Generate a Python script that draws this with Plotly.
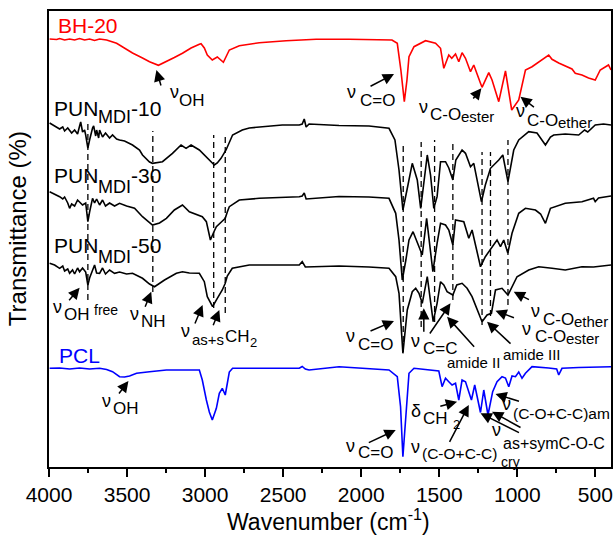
import plotly.graph_objects as go

# ---------------- data (wavenumber cm-1, transmittance in arbitrary offset units) -------------
BH20 = [(3996,428),(3951,427.5),(3932,428.5),(3900,427),(3868,428),(3836,427),(3804,428.5),(3772,427),
        (3740,428),(3708,426.5),(3676,428),(3631,427),(3567,423.7),(3516,419),(3465,414),(3401,409),
        (3356,405.3),(3299,401.7),(3248,405.3),(3197,409.5),(3145,413.7),(3090,419),(3037,422.7),(3026,423.3),
        (3005,419),(2986,412),(2954,407),(2922,410),(2883,404.7),(2845,417),(2781,421.3),(2653,424.3),
        (2481,426.3),(2289,427.7),(2078,427.7),(1950,427.5),(1803,427),(1769,423.7),(1746,397),(1724,365.3),
        (1707,387),(1694,410.3),(1662,420.3),(1588,426.3),(1524,423.7),(1492,418.7),(1471,398.7),(1439,412),
        (1420,408.7),(1396,413),(1375,405.3),(1354,414.3),(1332,408.7),(1300,395.3),(1279,402),(1236,383.7),
        (1226,379.7),(1183,394.3),(1162,387),(1119,365.3),(1076,396),(1036,357),(991,367),(948,397),
        (906,400.3),(799,412),(778,407.7),(735,404),(693,401),(650,398),(629,393.7),(586,392),(544,389),
        (501,387),(469,397),(437,400.3),(416,402),(400,397)]

PUN10 = [(3996,344),(3964,341),(3932,338),(3912,340),(3900,336),(3880,339),(3868,336),(3855,334),(3836,337),
         (3817,333),(3804,341),(3797,345),(3785,335),(3772,337),(3765,332),(3751,319),(3740,327),(3733,332),
         (3721,339),(3714,341),(3701,331),(3695,337),(3682,329),(3676,337),(3657,330),(3638,334),(3612,329),
         (3593,332),(3567,328),(3548,327),(3516,326),(3465,322),(3420,317),(3401,312),(3356,305),(3337,303.7),
         (3292,304.5),(3273,305.3),(3209,313.7),(3154,322),(3122,318.7),(3090,322),(3037,317),(2994,310.3),
         (2973,306),(2941,302),(2922,304),(2898,308.7),(2866,317),(2845,325),(2824,332),(2762,337),(2717,339),
         (2506,342),(2397,342),(2378,343),(2365,348),(2353,340),(2334,343),(2142,341.5),(1950,341),(1822,338.7),
         (1784,327),(1758,297),(1733,257),(1707,277),(1673,303.7),(1641,287),(1619,258.7),(1577,312),(1556,292),
         (1535,258.7),(1514,270.3),(1492,305.3),(1460,305.3),(1439,299),(1413,287),(1394,307),(1354,317),
         (1332,313.7),(1300,300.3),(1279,303.7),(1258,287),(1230,265.3),(1205,282),(1172,298.7),(1119,307),
         (1093,312),(1060,285.3),(1023,317),(991,327),(927,335.3),(874,334),(820,322),(788,330),(767,332),
         (693,333),(607,332),(569,337),(549,335),(501,342),(448,343),(400,342)]

PUN30 = [(3996,275.3),(3964,273),(3932,270.3),(3912,268),(3900,270),(3880,264),(3868,258.7),(3855,263),
         (3836,261),(3817,267),(3804,265.3),(3785,262),(3765,264),(3751,245.3),(3740,255),(3721,268.7),
         (3708,264),(3695,268),(3676,262),(3657,267),(3638,261),(3612,264),(3580,261),(3548,263.7),(3503,261),
         (3452,258.7),(3401,250.3),(3356,244),(3337,242),(3292,244),(3248,248.7),(3197,257),(3164,260.3),
         (3145,262),(3101,255.3),(3056,253),(3018,250.3),(2992,245.3),(2966,227),(2947,234),(2928,240.3),
         (2896,245),(2871,248.7),(2858,255),(2845,260.3),(2781,267),(2653,268.7),(2397,270.3),(2378,271),
         (2365,274),(2353,268),(2142,270.5),(1950,270),(1822,268.7),(1779,253.7),(1758,227),(1737,187),
         (1714,207),(1694,227),(1668,235.3),(1641,223.7),(1609,212),(1581,248.7),(1560,222),(1541,195.3),
         (1514,223.7),(1492,243.7),(1460,242),(1439,237),(1413,222),(1396,247),(1343,245.3),(1311,228.7),
         (1290,237),(1266,222),(1236,200.3),(1205,210.3),(1162,220.3),(1130,227),(1108,220.3),(1087,227),
         (1061,214),(1034,233.7),(991,253.7),(948,258.7),(884,257),(851,253),(820,243.7),(788,258.7),
         (693,263.7),(586,265.3),(512,268.7),(501,265.3),(480,269),(400,271)]

PUN50 = [(3996,203.7),(3964,202),(3932,198.7),(3912,201),(3900,196),(3880,198),(3868,193.7),(3849,197),
         (3836,193),(3817,199),(3804,195.3),(3785,199),(3765,195),(3751,182),(3740,189),(3721,197),(3708,202),
         (3695,194),(3676,193.7),(3657,199),(3638,193),(3612,197),(3580,193.7),(3548,195),(3503,193),
         (3465,193.7),(3401,188.7),(3356,183),(3324,180.3),(3260,187),(3184,193.7),(3145,195.3),(3101,194),
         (3037,193.7),(3005,185.3),(2986,170.3),(2952,160.3),(2922,168.7),(2890,177),(2871,183.7),(2858,191),
         (2826,198.7),(2717,202),(2397,202),(2378,205.3),(2358,200),(2142,201),(1950,200),(1822,198.7),
         (1779,190.3),(1758,173.7),(1733,113.7),(1705,157),(1673,175.3),(1651,178.7),(1630,173.7),(1609,163.7),
         (1577,190.3),(1556,163.7),(1539,145.3),(1514,163.7),(1492,185.3),(1471,182),(1450,175.3),(1413,172),
         (1388,182),(1354,183.7),(1322,178.7),(1290,170.3),(1258,157),(1226,145.3),(1194,152),(1166,153.7),
         (1140,177),(1098,178.7),(1060,172),(1034,180.3),(1002,190.3),(927,197),(863,200.3),(778,198.7),
         (693,197),(586,200.3),(512,200),(400,202)]

PCL = [(3996,98.7),(3932,99),(3868,98),(3804,99),(3740,98),(3676,98.7),(3631,97.5),(3593,95.3),(3548,90.3),
       (3516,90),(3484,91),(3439,93.7),(3356,95.3),(3248,97),(3037,97),(3018,87),(2992,67),(2973,55),(2954,47),
       (2928,58.7),(2909,73.7),(2890,78.7),(2871,72),(2858,82),(2845,95),(2824,98.7),(2653,99),(2397,98.7),
       (2378,100.5),(2358,98),(2334,97),(2142,100.3),(1993,98.7),(1822,97),(1769,90.3),(1748,60.3),(1733,10.3),
       (1720,37),(1705,67),(1694,93.7),(1662,98.7),(1524,97),(1503,96),(1482,80.3),(1460,88.7),(1439,85.3),
       (1418,82),(1396,83.7),(1375,67),(1354,87),(1332,85.3),(1294,67),(1273,82),(1236,54.5),(1215,77),
       (1188,52),(1158,75.3),(1130,85.3),(1098,90.3),(1076,89),(1055,80.3),(1034,91),(1012,90.3),(991,95),
       (970,88.7),(948,93.7),(906,100.3),(799,99),(748,98),(735,92),(714,98.7),(607,99.5),(400,100.3)]

SERIES = [("BH-20", BH20, "#ff0000"), ("PUN-MDI-10", PUN10, "black"), ("PUN-MDI-30", PUN30, "black"),
          ("PUN-MDI-50", PUN50, "black"), ("PCL", PCL, "#0000ff")]

# band guide lines (wavenumber, top, bottom)
DASH_WN = [3751, 3335, 2945, 2871, 1731, 1616, 1530, 1413, 1226, 1172, 1060]
DASH_TOP = [346, 336, 332, 332, 324, 325, 327, 325, 315, 315, 327]
DASH_BOTTOM = [167, 175, 159, 154, 115, 140, 145, 167, 142, 151, 162]

X_TICKS = [4000, 3500, 3000, 2500, 2000, 1500, 1000, 500]

# text labels: (text, wavenumber-left, T-center, size, color)
LABELS = [
    ("BH-20", 3951, 442, 21, "#ff0000"),
    ("ν", 3234, 375.5, 18, "black"), ("OH", 3175, 367, 17, "black"),
    ("ν", 2097, 375.5, 18, "black"), ("C=O", 2014, 367, 17, "black"),
    ("ν", 1636, 360.5, 18, "black"), ("C-O", 1567, 353, 17, "black"), ("ester", 1368, 351, 15, "black"),
    ("ν", 1016, 356.5, 18, "black"), ("C-O", 947, 347, 17, "black"), ("ether", 748, 345, 15, "black"),
    ("PUN", 3976, 358.5, 21, "black"), ("MDI", 3695, 350, 18, "black"), ("-10", 3484, 359, 21, "black"),
    ("PUN", 3976, 291.5, 21, "black"), ("MDI", 3695, 280.5, 18, "black"), ("-30", 3484, 292, 21, "black"),
    ("PUN", 3976, 221.5, 21, "black"), ("MDI", 3695, 210.5, 18, "black"), ("-50", 3484, 222, 21, "black"),
    ("ν", 3982, 160.5, 18, "black"), ("OH", 3912, 152.5, 17, "black"), ("free", 3721, 157, 14, "black"),
    ("ν", 3490, 153.5, 18, "black"), ("NH", 3420, 145.3, 17, "black"),
    ("ν", 3158, 136.5, 18, "black"), ("as+s", 3088, 128, 15, "black"), ("CH", 2877, 131, 17, "black"),
    ("2", 2717, 125, 13, "black"),
    ("PCL", 3944, 112, 21, "#0000ff"),
    ("ν", 3669, 66.5, 18, "black"), ("OH", 3599, 58.5, 17, "black"),
    ("ν", 2103, 131.5, 18, "black"), ("C=O", 2027, 122.5, 17, "black"),
    ("ν", 1688, 126.5, 18, "black"), ("C=C", 1611, 118.5, 17, "black"),
    ("amide II", 1458, 105, 15, "black"),
    ("amide III", 1100, 113, 15, "black"),
    ("ν", 978, 138.5, 18, "black"), ("C-O", 896, 131, 17, "black"), ("ester", 697, 129, 15, "black"),
    ("ν", 921, 156.5, 18, "black"), ("C-O", 844, 148, 17, "black"), ("ether", 646, 146, 15, "black"),
    ("δ", 1688, 56, 18, "black"), ("CH", 1611, 48.5, 17, "black"), ("2", 1418, 43, 13, "black"),
    ("ν", 1688, 20.5, 18, "black"), ("(C-O+C-C)", 1617, 13.5, 15.5, "black"), ("cry", 1113, 5.5, 14, "black"),
    ("ν", 2103, 21.5, 18, "black"), ("C=O", 2027, 14.5, 17, "black"),
    ("ν", 1170, 37.5, 18, "black"), ("as+symC-O-C", 1100, 23.5, 16, "black"),
    ("ν", 1106, 63.5, 18, "black"), ("(C-O+C-C)am", 1036, 53.5, 15.5, "black"),
]

# arrows: (head wn, head T, tail wn, tail T)
ARROWS = [(3312, 397, 3280, 380), (1790, 393, 1950, 380), (1230, 378.7, 1290, 367), (980, 370.3, 884, 358.7),
          (3804, 179.3, 3879, 165.3), (3345, 175.3, 3388, 158.7), (3016, 162, 3069, 142), (2909, 157, 2952, 140.3),
          (3491, 86, 3559, 72), (1790, 146, 1950, 135.3), (1599, 158.7, 1599, 133.7), (1428, 163.7, 1567, 132),
          (1450, 150.3, 1268, 118.7), (1194, 145.3, 1034, 122), (1140, 156.3, 1012, 148.7), (1023, 175.3, 916, 166.5),
          (1779, 37, 1961, 23.7), (1386, 65.3, 1503, 60.3), (1311, 62, 1439, 23.7), (1236, 53.7, 980, 33.7),
          (1162, 55.3, 970, 38.7), (1140, 73, 980, 65.3)]

FONT = "Arial, Liberation Sans, sans-serif"

fig = go.Figure()
for name, data, color in SERIES:
    wn, t = zip(*data)
    fig.add_trace(go.Scatter(x=list(wn), y=list(t), mode="lines", name=name, showlegend=False,
                             line=dict(color=color, width=1.6)))

for w, top, bot in zip(DASH_WN, DASH_TOP, DASH_BOTTOM):
    fig.add_shape(type="line", xref="x", yref="y", x0=w, x1=w, y0=bot, y1=top,
                  line=dict(color="black", width=1.3, dash="6px,4px"))

for text, x, y, size, color in LABELS:
    fig.add_annotation(x=x, y=y, xref="x", yref="y", text=text, showarrow=False,
                       xanchor="left", yanchor="middle", borderpad=0,
                       font=dict(family=FONT, size=size, color=color))

for hx, hy, tx, ty in ARROWS:
    fig.add_annotation(x=hx, y=hy, ax=tx, ay=ty, xref="x", yref="y", axref="x", ayref="y",
                       text="", showarrow=True, arrowhead=2, arrowsize=1.5, arrowwidth=1.5,
                       arrowcolor="black", standoff=0)

fig.add_annotation(xref="paper", yref="paper", x=-0.0547, y=0.522, text="Transmittance (%)",
                   textangle=-90, showarrow=False, xanchor="center", yanchor="middle",
                   font=dict(family=FONT, size=24, color="black"))
fig.add_annotation(xref="paper", yref="paper", x=0.498, y=-0.116, text="Wavenumber (cm<sup>-1</sup>)",
                   showarrow=False, xanchor="center", yanchor="middle",
                   font=dict(family=FONT, size=23, color="black"))

fig.update_layout(width=616, height=535, margin=dict(l=49, r=3, t=11, b=68),
                  plot_bgcolor="white", paper_bgcolor="white",
                  font=dict(family=FONT, color="black"))
fig.update_xaxes(range=[4000, 400], tickvals=X_TICKS, ticks="outside", ticklen=8, tickwidth=1.5,
                 tickcolor="black", showline=True, linecolor="black", linewidth=1.5, mirror=True,
                 showgrid=False, zeroline=False, tickfont=dict(family=FONT, size=21, color="black"),
                 minor=dict(ticks="outside", ticklen=4, tickwidth=1.5, tickcolor="black",
                            tick0=250, dtick=250, showgrid=False))
fig.update_yaxes(range=[0, 456], showticklabels=False, ticks="", showline=True, linecolor="black",
                 linewidth=1.5, mirror=True, showgrid=False, zeroline=False)

fig.write_html("out.html", config={"displayModeBar": False},
               post_script="document.body.style.margin='0';")
